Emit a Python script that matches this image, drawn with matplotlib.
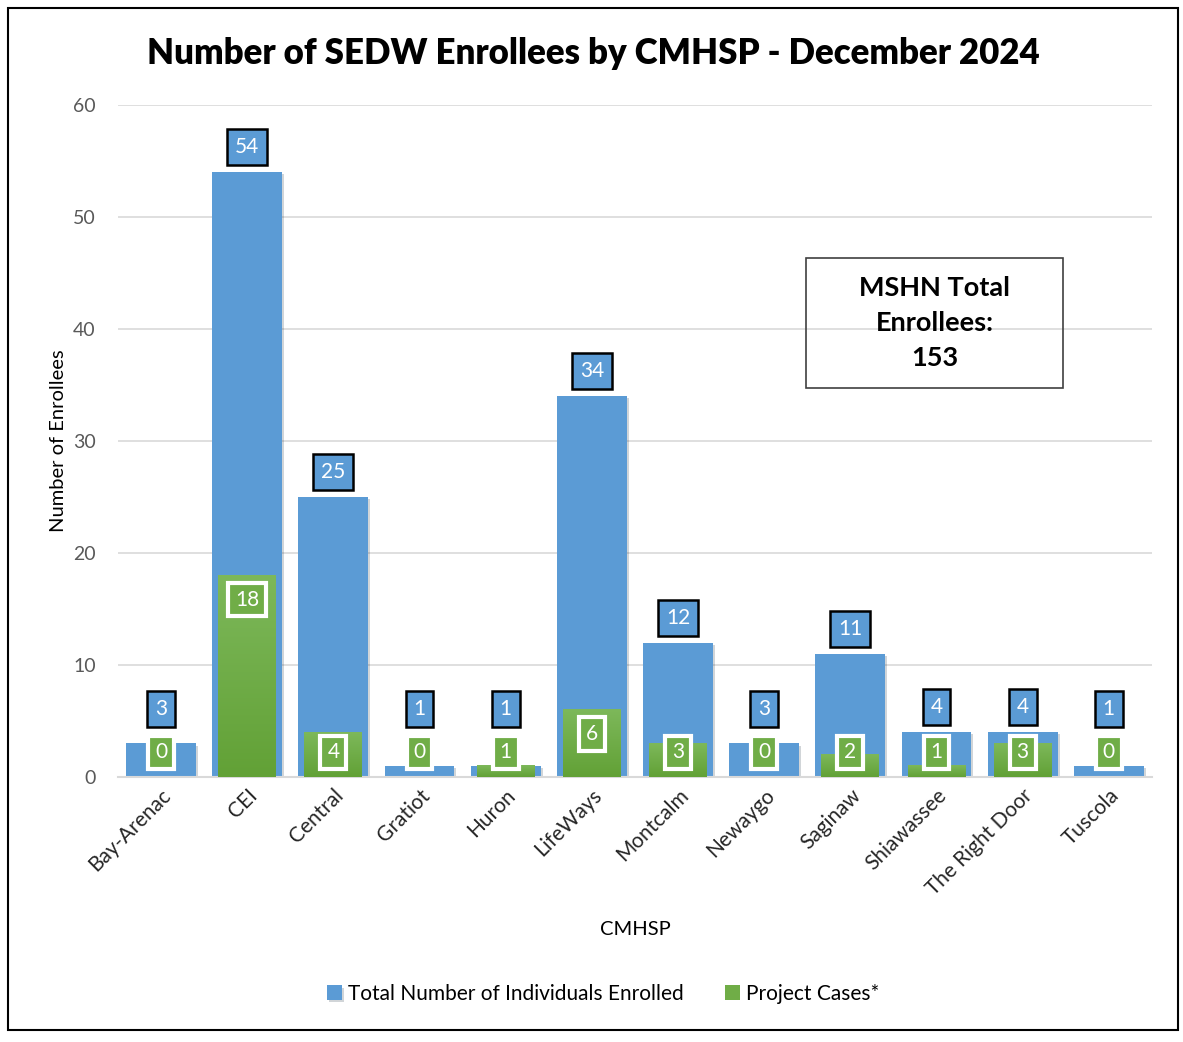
import matplotlib.pyplot as plt
import numpy as np
from matplotlib.patches import Rectangle
from matplotlib.colors import LinearSegmentedColormap
import matplotlib.patheffects as pe

# Daten
cmhsp = ['Bay-Arenac', 'CEI', 'Central', 'Gratiot', 'Huron', 'LifeWays',
         'Montcalm', 'Newaygo', 'Saginaw', 'Shiawassee', 'The Right Door', 'Tuscola']
total = [3, 54, 25, 1, 1, 34, 12, 3, 11, 4, 4, 1]
project = [0, 18, 4, 0, 1, 6, 3, 0, 2, 1, 3, 0]
mshn_total = 153

blue = '#5B9BD5'
green = '#70AD47'
plt.rcParams['font.family'] = ['Lato', 'DejaVu Sans']

fig = plt.figure(figsize=(11.83, 10.42), dpi=100)
ax = fig.add_axes([0.0997, 0.2543, 0.874, 0.6449])

x = np.arange(len(cmhsp))
shadow = [pe.SimplePatchShadow(offset=(1.5, -1.5), alpha=0.2), pe.Normal()]
b1 = ax.bar(x, total, width=0.81, color=blue, zorder=2, label='Total Number of Individuals Enrolled')
b2 = ax.bar(x, project, width=0.67, color=green, zorder=3, label='Project Cases*')
for b in b1:
    b.set_path_effects(shadow)

# Verlauf fuer die gruenen Balken (oben heller)
grad = np.linspace(0, 1, 100).reshape(-1, 1)
gcm = LinearSegmentedColormap.from_list('g', ['#7DB85A', '#62A136'])
for b in b2:
    if b.get_height() > 0:
        ax.imshow(grad, cmap=gcm, aspect='auto', zorder=3.5,
                  extent=[b.get_x(), b.get_x() + b.get_width(), 0, b.get_height()])

ax.set_xlim(-0.5, len(cmhsp) - 0.5)
ax.set_ylim(0, 60)
ax.set_yticks(range(0, 61, 10))
ax.grid(axis='y', color='#D9D9D9', linewidth=1.2, zorder=0)
ax.set_axisbelow(True)
for s in ['top', 'right', 'left']:
    ax.spines[s].set_visible(False)
ax.spines['bottom'].set_color('#D9D9D9')
ax.spines['bottom'].set_linewidth(1.5)
ax.tick_params(axis='y', length=0, labelsize=14, labelcolor='#595959', pad=16)
ax.tick_params(axis='x', length=0, labelsize=15, labelcolor='#262626', pad=6)
ax.set_xticks(x)
ax.set_xticklabels(cmhsp, rotation=45, ha='right', rotation_mode='anchor')

# Beschriftungen
for i, (t, p) in enumerate(zip(total, project)):
    yb = max(t + 2.23, 6.1)
    ax.text(i, yb, str(t), ha='center', va='center', fontsize=15, color='white', zorder=5,
            bbox=dict(boxstyle='square,pad=0.38', fc=blue, ec='black', lw=1.8))
    yg = max(p - 2.15, 2.2)
    ax.text(i, yg, str(p), ha='center', va='center', fontsize=15, color='white', zorder=5,
            bbox=dict(boxstyle='square,pad=0.33', fc=green, ec='white', lw=3))

ax.set_ylabel('Number of Enrollees', fontsize=14.5, color='black', labelpad=4)
fig.text(0.537, 0.108, 'CMHSP', ha='center', va='center', fontsize=14.5)

fig.text(0.502, 0.949, 'Number of SEDW Enrollees by CMHSP - December 2024',
         ha='center', va='center', fontsize=25, fontweight='heavy')

# Kasten mit Gesamtzahl
box = Rectangle((806 / 1183, 1 - 388 / 1042), 257 / 1183, 130 / 1042,
                transform=fig.transFigure, fill=False, ec='#404040', lw=1.2)
fig.patches.append(box)
fig.text(934.5 / 1183, 1 - 323 / 1042, 'MSHN Total\nEnrollees:\n%d' % mshn_total,
         ha='center', va='center', fontsize=19.5, fontweight='bold', linespacing=1.55)

leg = fig.legend(handles=[b1, b2], loc='center', bbox_to_anchor=(0.51, 0.046), ncol=2,
                 frameon=False, fontsize=15, handlelength=0.7, handleheight=0.7,
                 columnspacing=2.0, handletextpad=0.3)

# Rahmen
fig.patches.append(Rectangle((8 / 1183, 1 - 1030 / 1042), 1170 / 1183, 1022 / 1042,
                             transform=fig.transFigure, fill=False, ec='black', lw=1.5))

fig.savefig('out.png', dpi=100)
